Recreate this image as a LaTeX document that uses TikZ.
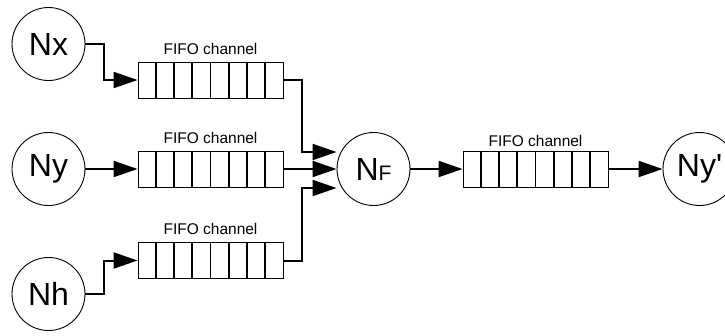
\documentclass[tikz,border=0pt]{standalone}
\usepackage{fontspec}
\setmainfont[Ligatures=TeXOff]{Liberation Sans}
\usetikzlibrary{arrows.meta,calc}

\tikzset{
  proc/.style={circle, draw, line width=0.9pt, minimum size=73pt, inner sep=0pt,
               font=\fontsize{32}{32}\selectfont},
  fifo/.style={rectangle, draw, line width=0.9pt, minimum width=145pt,
               minimum height=36pt, inner sep=0pt},
  divider/.style={line width=1.6pt},
  chlabel/.style={font=\fontsize{15.5}{16}\selectfont, inner sep=0pt},
  flow/.style={line width=2pt, -{Triangle[length=24pt, width=16pt]}},
  wire/.style={line width=2pt}
}

\begin{document}
\begin{tikzpicture}[x=1pt, y=-1pt]
  \path[use as bounding box] (0,0) rectangle (725,335);

  % processes
  \node[proc] (nx) at (48.5,44) {Nx};
  \node[proc] (ny) at (48.5,169) {Ny};
  \node[proc] (nh) at (48.5,294) {Nh};
  \node[proc] (nf) at (373.5,169) {N{\fontsize{21}{21}\selectfont F}};
  \node[proc] (nyp) at (699.5,169) {Ny'};

  % FIFO channels
  \node[fifo] (q1) at (210.5,80) {};
  \node[fifo] (q2) at (210.5,169) {};
  \node[fifo] (q3) at (210.5,260.5) {};
  \node[fifo] (q4) at (535.5,169) {};

  \foreach \q in {q1,q2,q3,q4}
    \foreach \i in {1,...,7}
      \draw[divider] ($(\q.north west)!\i/8!(\q.north east)$)
                  -- ($(\q.south west)!\i/8!(\q.south east)$);

  \node[chlabel] (l1) at (210.5,48.5) {FIFO channel};
  \node[chlabel] (l2) at (210.5,137.5) {FIFO channel};
  \node[chlabel] (l3) at (210.5,229) {FIFO channel};
  \node[chlabel] (l4) at (535.5,141) {FIFO channel};

  % inputs into the channels
  \draw[flow] (nx.east) -- ++(18.5,0) |- (q1.west);
  \draw[flow] (ny.east) -- (q2.west);
  \draw[flow] (nh.east) -- ++(18.5,0) |- (q3.west);

  % channels merging into NF
  \draw[flow] (q1.east) -- ++(19,0) |- ([yshift=17pt]nf.west);
  \draw[flow] (q2.east) -- (nf.west);
  \draw[flow] (q3.east) -- ++(19,0) |- ([yshift=-19pt]nf.west);

  % output path
  \draw[flow] (nf.east) -- (q4.west);
  \draw[flow] (q4.east) -- (nyp.west);
\end{tikzpicture}
\end{document}
